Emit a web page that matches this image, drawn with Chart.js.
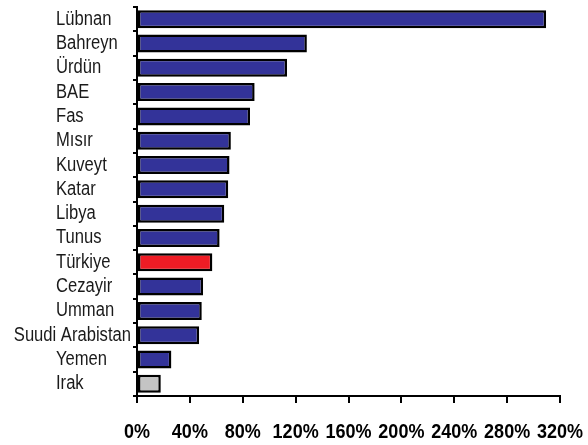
<!DOCTYPE html>
<html>
<head>
<meta charset="utf-8">
<script src="https://cdn.jsdelivr.net/npm/chart.js@4/dist/chart.umd.min.js"></script>
<style>
html,body{margin:0;padding:0;background:#fff;}
#wrap{width:588px;height:445px;position:relative;}
</style>
</head>
<body>
<div id="wrap"><canvas id="c" width="588" height="445"></canvas></div>
<script>
const categories = ['Lübnan','Bahreyn','Ürdün','BAE','Fas','Mısır','Kuveyt','Katar','Libya','Tunus','Türkiye','Cezayir','Umman','Suudi Arabistan','Yemen','Irak'];
const values = [309.5, 128.5, 113.5, 89, 85.5, 71, 70, 69, 66, 62.5, 57, 50, 49, 47, 26, 18];
const xTicks = [0, 40, 80, 120, 160, 200, 240, 280, 320];

const HIGHLIGHT = 'Türkiye';
const MUTED = 'Irak';
const BASE_COLOR = '#333399';
const HIGHLIGHT_COLOR = '#ee1c25';
const MUTED_COLOR = '#c4c4c4';
const LABEL_LEFT = 56;
const NARROW_Y = 0.83;
const NARROW_X = 0.9;
const FONT = "'Liberation Sans', Arial, sans-serif";

const barColors = categories.map(c => c === HIGHLIGHT ? HIGHLIGHT_COLOR : (c === MUTED ? MUTED_COLOR : BASE_COLOR));

function measure(ctx, font, text) {
  ctx.save();
  ctx.font = font.string;
  const w = ctx.measureText(text).width;
  ctx.restore();
  return w;
}

const labelAlignPlugin = {
  id: 'labelAlign',
  afterUpdate(chart) {
    const ctx = chart.ctx;
    const s = chart.scales.y;
    const rightX = s.right - s.options.grid.tickLength - s.options.ticks.padding;
    s.getLabelItems().forEach(it => {
      const w = measure(ctx, it.font, it.label) * NARROW_Y;
      it.options.maxWidth = w;
      if (LABEL_LEFT + w <= rightX) {
        it.options.textAlign = 'left';
        it.options.translation[0] = LABEL_LEFT;
      } else {
        it.options.textAlign = 'right';
        it.options.translation[0] = rightX;
      }
    });
    chart.scales.x.getLabelItems().forEach(it => {
      it.options.maxWidth = measure(ctx, it.font, it.label) * NARROW_X;
    });
  }
};

new Chart(document.getElementById('c'), {
  type: 'bar',
  data: {
    labels: categories,
    datasets: [{
      data: values,
      backgroundColor: barColors,
      borderColor: '#000000',
      borderWidth: 2.5,
      borderSkipped: false,
      barPercentage: 0.74,
      categoryPercentage: 1.0
    }]
  },
  options: {
    indexAxis: 'y',
    responsive: false,
    animation: false,
    layout: { padding: { left: 0, right: 28, top: 7, bottom: 0 } },
    plugins: { legend: { display: false }, tooltip: { enabled: false } },
    scales: {
      x: {
        type: 'linear',
        min: xTicks[0],
        max: xTicks[xTicks.length - 1],
        afterBuildTicks: (scale) => { scale.ticks = xTicks.map(v => ({ value: v })); },
        afterFit: (scale) => { scale.height = 49; scale.paddingLeft = 0; scale.paddingRight = 0; },
        ticks: {
          callback: (v) => v + '%',
          color: '#000',
          font: { family: FONT, size: 20, weight: 'bold' },
          padding: 17,
          maxRotation: 0,
          autoSkip: false
        },
        grid: { drawOnChartArea: false, drawTicks: true, tickLength: 7, color: '#000', lineWidth: 2 },
        border: { display: true, color: '#000', width: 2 }
      },
      y: {
        afterFit: (scale) => { scale.width = 137; scale.paddingTop = 0; scale.paddingBottom = 0; },
        ticks: {
          color: '#1a1a1a',
          font: { family: FONT, size: 20 },
          padding: 2,
          autoSkip: false
        },
        grid: { offset: true, drawOnChartArea: false, drawTicks: true, tickLength: 4, color: '#000', lineWidth: 2 },
        border: { display: true, color: '#000', width: 2 }
      }
    }
  },
  plugins: [labelAlignPlugin]
});
</script>
</body>
</html>
